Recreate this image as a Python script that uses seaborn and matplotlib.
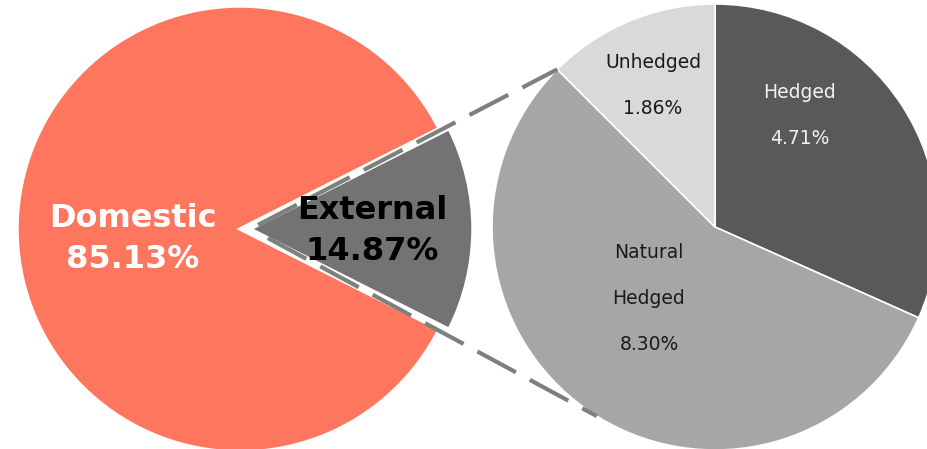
import numpy as np
import seaborn as sns
import matplotlib.pyplot as plt

# outer pie: share of total
outer_labels = ['External', 'Domestic']
outer_values = [14.87, 85.13]
outer_colors = ['#737373', '#FE765E']
outer_text_colors = ['black', 'white']

# inner breakdown of External
inner_labels = ['Hedged', 'Natural\nHedged', 'Unhedged']
inner_values = [4.71, 8.30, 1.86]
inner_colors = ['#595959', '#A6A6A6', '#D9D9D9']
inner_text_colors = ['#F2F2F2', '#1A1A1A', '#1A1A1A']

sns.set_theme(style='white')
plt.rcParams['font.family'] = ['DejaVu Sans']

W, H = 927, 449
fig = plt.figure(figsize=(W / 100, H / 100), dpi=100)
ax = fig.add_axes([0, 0, 1, 1])

R = 223
c1 = (240, 220)
c2 = (715, 222)
ext_half = outer_values[0] / 100 * 180
boom = 10

ax.pie(outer_values, colors=outer_colors, center=c1, radius=R,
       startangle=-ext_half, counterclock=True, explode=[boom, 0],
       wedgeprops=dict(edgecolor='white', linewidth=2.5), frame=True)
ax.pie(inner_values, colors=inner_colors, center=c2, radius=R,
       startangle=90, counterclock=False,
       wedgeprops=dict(edgecolor='white', linewidth=1.2), frame=True)
ax.set_xlim(0, W)
ax.set_ylim(0, H)
ax.set_aspect('equal')
ax.axis('off')

# connector lines from External wedge to the breakdown pie
apex = (c1[0] + boom, c1[1])
ends_deg = [135, 238]
starts = [(ext_half, 9), (-ext_half, 20)]
for (a, d), e in zip(starts, ends_deg):
    x0 = apex[0] + d * np.cos(np.radians(a))
    y0 = apex[1] + d * np.sin(np.radians(a))
    x1 = c2[0] + R * np.cos(np.radians(e))
    y1 = c2[1] + R * np.sin(np.radians(e))
    ax.plot([x0, x1], [y0, y1], color='#7F7F7F', lw=3.0,
            dashes=(10.5, 3.8), solid_capstyle='butt', dash_capstyle='butt',
            zorder=5)

# labels
ax.text(133, H - 239, f'{outer_labels[1]}\n{outer_values[1]:.2f}%',
        color=outer_text_colors[1], fontsize=23, fontweight='bold',
        ha='center', va='center', linespacing=1.38, zorder=6)
ax.text(372, H - 231, f'{outer_labels[0]}\n{outer_values[0]:.2f}%',
        color=outer_text_colors[0], fontsize=23, fontweight='bold',
        ha='center', va='center', linespacing=1.38, zorder=6)

inner_pos = [(800, H - 115), (649, H - 299), (653, H - 85)]
for lab, v, col, (x, y) in zip(inner_labels, inner_values, inner_text_colors, inner_pos):
    ax.text(x, y, f'{lab}\n{v:.2f}%', color=col, fontsize=13.5,
            ha='center', va='center', linespacing=2.8, zorder=6)

fig.savefig('out.png', dpi=100)
